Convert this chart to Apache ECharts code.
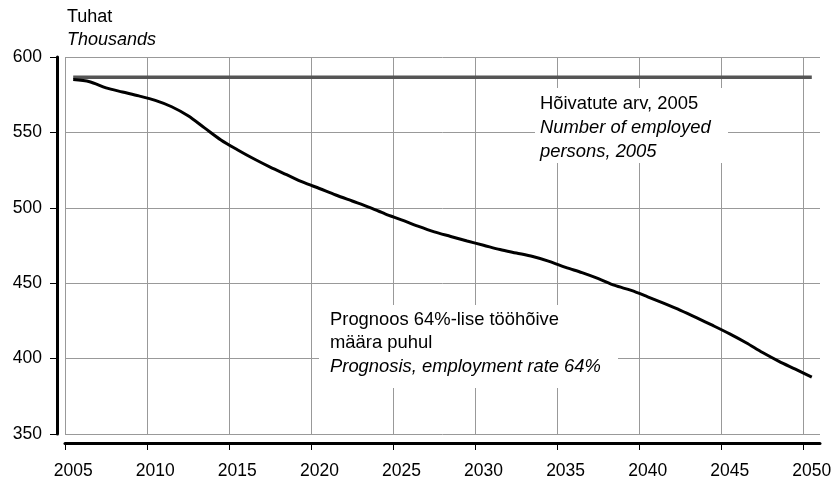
<!DOCTYPE html>
<html>
<head>
<meta charset="utf-8">
<script src="https://cdn.jsdelivr.net/npm/echarts@6/dist/echarts.min.js"></script>
<style>
html,body{margin:0;padding:0;background:#fff;}
#main{width:837px;height:483px;}
</style>
</head>
<body>
<div id="main"></div>
<script>
// Data
const years = [2005,2006,2007,2008,2009,2010,2011,2012,2013,2014,2015,2016,2017,2018,2019,2020,2021,2022,2023,2024,2025,2026,2027,2028,2029,2030,2031,2032,2033,2034,2035,2036,2037,2038,2039,2040,2041,2042,2043,2044,2045,2046,2047,2048,2049,2050];
const prognosis = [585,583.6,579.5,576.8,574.2,571.2,567,561,553,545,538.5,532.5,527,522,517,512.8,508.5,504.5,500.5,496,492,487.8,484,481,478,475.2,472.3,470,467.7,464.5,460.5,457,453,448.5,445.2,441,436.6,432,427,421.8,416.4,410.5,404,398.2,393,387.7];
const employed2005 = 586.5;
const xLabelYears = [2005,2010,2015,2020,2025,2030,2035,2040,2045,2050];
const xTickBounds = [2004.5,2009.5,2014.5,2019.5,2024.5,2029.5,2034.5,2039.5,2044.5,2049.5];
const yTicks = [350,400,450,500,550,600];

const FONT = '"Liberation Sans", Arial, Helvetica, sans-serif';
const FS_AX = 17.5;
const FS_T = 18;
const FS_A = 18.4;

const chart = echarts.init(document.getElementById('main'), null, {renderer:'canvas'});
const option = {
  backgroundColor:'#fff',
  animation:false,
  title:{
    text:'Tuhat', subtext:'Thousands',
    left:67, top:8, padding:0, itemGap:5,
    textStyle:{fontFamily:FONT,fontSize:FS_T,fontWeight:'normal',color:'#000'},
    subtextStyle:{fontFamily:FONT,fontSize:FS_T,fontStyle:'italic',color:'#000'}
  },
  grid:{left:65,right:17,top:57,bottom:49,containLabel:false},
  xAxis:{
    type:'value', min:2004.5, max:2050.5,
    offset:9,
    axisLine:{show:true,onZero:false,lineStyle:{color:'#000',width:3}},
    axisTick:{show:true,length:7,customValues:xTickBounds,lineStyle:{color:'#000',width:1}},
    axisLabel:{customValues:xLabelYears,margin:19,fontFamily:FONT,fontSize:FS_AX,color:'#000',formatter:v=>String(v)},
    splitLine:{show:true,lineStyle:{color:'#999',width:1}}
  },
  yAxis:{
    type:'value', min:350, max:600, interval:50,
    offset:8,
    axisLine:{show:true,lineStyle:{color:'#000',width:3}},
    axisTick:{show:true,length:7,lineStyle:{color:'#000',width:1}},
    axisLabel:{margin:15,fontFamily:FONT,fontSize:FS_AX,color:'#000',
      customValues:yTicks},
    splitLine:{show:true,lineStyle:{color:'#999',width:1}}
  },
  series:[
    {
      type:'line', name:'Hõivatute arv, 2005',
      data:[[years[0],employed2005],[years[years.length-1],employed2005]],
      showSymbol:false, symbol:'none',
      lineStyle:{color:'#555',width:3.5}
    },
    {
      type:'line', name:'Prognoos',
      data:years.map((y,i)=>[y,prognosis[i]]),
      showSymbol:false, symbol:'none', smooth:0.3,
      lineStyle:{color:'#000',width:3}
    }
  ],
  graphic:[
    {type:'rect',shape:{x:535,y:88,width:193,height:75},style:{fill:'#fff'},z:50},
    {type:'text',x:540,y:103.5,z:51,style:{text:'Hõivatute arv, 2005',font:FS_A+'px '+FONT,fill:'#000',textVerticalAlign:'middle'}},
    {type:'text',x:540,y:127.5,z:51,style:{text:'Number of employed',font:'italic '+FS_A+'px '+FONT,fill:'#000',textVerticalAlign:'middle'}},
    {type:'text',x:540,y:151.5,z:51,style:{text:'persons, 2005',font:'italic '+FS_A+'px '+FONT,fill:'#000',textVerticalAlign:'middle'}},
    {type:'rect',shape:{x:319,y:305,width:299,height:83},style:{fill:'#fff'},z:50},
    {type:'text',x:330,y:320,z:51,style:{text:'Prognoos 64%-lise tööhõive',font:FS_A+'px '+FONT,fill:'#000',textVerticalAlign:'middle'}},
    {type:'text',x:330,y:343,z:51,style:{text:'määra puhul',font:FS_A+'px '+FONT,fill:'#000',textVerticalAlign:'middle'}},
    {type:'text',x:330,y:367,z:51,style:{text:'Prognosis, employment rate 64%',font:'italic '+FS_A+'px '+FONT,fill:'#000',textVerticalAlign:'middle'}}
  ]
};
chart.setOption(option);
</script>
</body>
</html>
